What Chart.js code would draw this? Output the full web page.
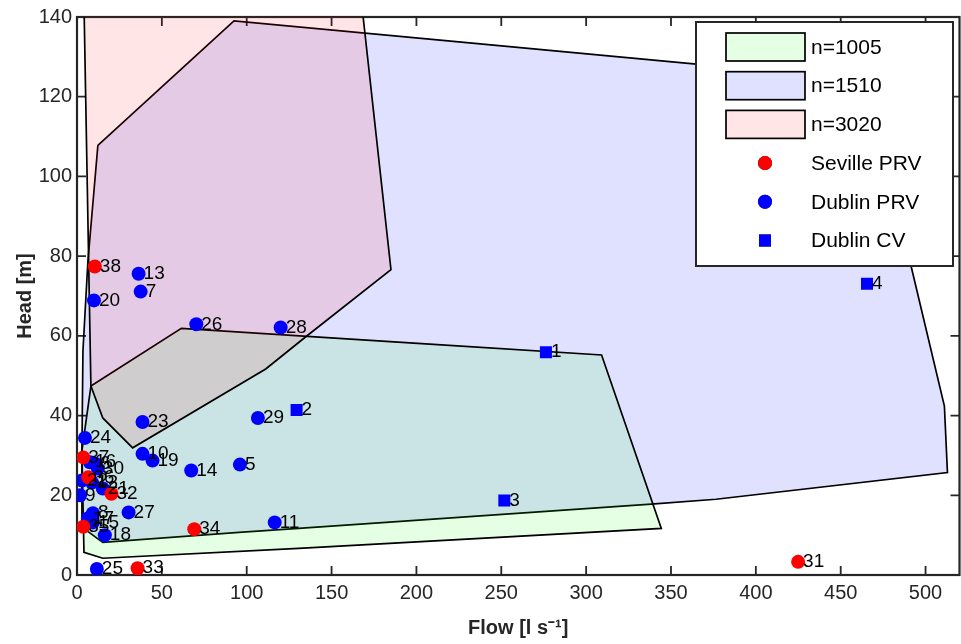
<!DOCTYPE html>
<html>
<head>
<meta charset="utf-8">
<script src="https://cdn.jsdelivr.net/npm/chart.js@4.4.0/dist/chart.umd.min.js"></script>
<style>
  html, body { margin: 0; padding: 0; background: #fff; overflow: hidden; }
  #wrap { width: 961px; height: 644px; overflow: hidden; }
</style>
</head>
<body>
<div id="wrap"><canvas id="myChart" width="968" height="644"></canvas></div>
<script>
// operating envelopes, flow [l/s] and head [m]
const env1005Flow = [8.2, 61.5, 200.8, 309.1, 344.3, 130.6, 15.2, 4.1, 2.9];
const env1005Head = [47.4, 61.9, 58.1, 55.2, 11.7, 6.7, 4.2, 5.7, 31.2];

const env1510Flow = [12.3, 92.5, 236.0, 361.8, 465.5, 491.8, 511.1, 512.9, 376.5, 338.4, 130.6, 95.4, 15.2, 2.9, 2.9, 3.5, 6.4];
const env1510Head = [107.8, 139.0, 133.3, 128.3, 124.0, 76.9, 42.4, 25.7, 19.0, 17.8, 11.7, 10.7, 8.2, 12.0, 31.2, 56.2, 78.6];

const env3020Flow = [4.0, 8.2, 15.2, 32.8, 111.2, 135.2, 185.0, 168.6, 167.2];
const env3020Head = [146, 47.4, 39.4, 31.9, 51.7, 59.9, 76.6, 140, 146];

// valve operating points
const sevilleIds  = [31, 32, 33, 34, 35, 36, 37, 38];
const sevilleFlow = [424.9, 20.3, 35.7, 69.1, 3.7, 6.6, 3.7, 10.5];
const sevilleHead = [3.3, 20.4, 1.7, 11.5, 12.1, 24.5, 29.5, 77.4];

const dublinPrvIds  = [5, 6, 7, 8, 9, 10, 11, 12, 13, 14, 15, 16, 17, 18, 19, 20, 21, 22, 23, 24, 25, 26, 27, 28, 29, 30];
const dublinPrvFlow = [96.0, 10.5, 37.5, 9.4, 1.8, 38.6, 116.5, 8.8, 36.3, 67.3, 9.4, 7.6, 6.4, 16.4, 44.5, 10.0, 15.2, 2.9, 38.6, 4.7, 11.7, 70.3, 30.4, 120.0, 106.6, 12.3];
const dublinPrvHead = [27.7, 28.0, 71.1, 15.5, 20.0, 30.4, 13.2, 23.2, 75.6, 26.2, 13.2, 28.3, 14.2, 10.0, 28.7, 68.9, 21.7, 23.7, 38.4, 34.4, 1.5, 62.9, 15.7, 62.1, 39.4, 26.7];

const dublinCvIds  = [1, 2, 3, 4];
const dublinCvFlow = [276.3, 129.4, 251.8, 465.5];
const dublinCvHead = [55.9, 41.4, 18.7, 73.1];

const FONT = '"Liberation Sans", Arial, sans-serif';
const AXIS_COLOR = '#262626';

const toPts = (xs, ys) => xs.map((x, i) => ({ x: x, y: ys[i] }));
const closed = (xs, ys) => { const p = toPts(xs, ys); p.push(p[0]); return p; };

const envelope = (label, xs, ys, fillColor, order) => ({
  label: label,
  kind: 'patch',
  data: closed(xs, ys),
  showLine: true,
  fill: 'shape',
  backgroundColor: fillColor,
  borderColor: '#000',
  borderWidth: 1.7,
  pointRadius: 0,
  tension: 0,
  order: order
});

const markers = (label, ids, xs, ys, color, style, radius) => ({
  label: label,
  kind: 'marker',
  ids: ids,
  data: toPts(xs, ys),
  showLine: false,
  pointStyle: style,
  pointRadius: radius,
  backgroundColor: color,
  borderColor: color,
  borderWidth: 0,
  order: 0
});

// box with inward ticks on all four sides
const axesBox = {
  id: 'axesBox',
  beforeDatasetsDraw(chart) {
    const { ctx, chartArea: a, scales } = chart;
    ctx.save();
    ctx.strokeStyle = AXIS_COLOR;
    ctx.lineWidth = 2.2;
    ctx.strokeRect(a.left, a.top, a.right - a.left, a.bottom - a.top);
    ctx.lineWidth = 1.8;
    ctx.beginPath();
    scales.x.ticks.forEach(t => {
      const px = scales.x.getPixelForValue(t.value);
      ctx.moveTo(px, a.bottom); ctx.lineTo(px, a.bottom - 9);
      ctx.moveTo(px, a.top); ctx.lineTo(px, a.top + 9);
    });
    scales.y.ticks.forEach(t => {
      const py = scales.y.getPixelForValue(t.value);
      ctx.moveTo(a.left, py); ctx.lineTo(a.left + 9, py);
      ctx.moveTo(a.right, py); ctx.lineTo(a.right - 9, py);
    });
    ctx.stroke();
    ctx.restore();
  }
};

// numbers next to each valve
const pointLabels = {
  id: 'pointLabels',
  afterDatasetsDraw(chart) {
    const ctx = chart.ctx;
    ctx.save();
    ctx.font = '19px ' + FONT;
    ctx.fillStyle = '#000';
    ctx.textBaseline = 'middle';
    chart.data.datasets.forEach((ds, i) => {
      if (!ds.ids) return;
      chart.getDatasetMeta(i).data.forEach((pt, j) => {
        ctx.fillText(String(ds.ids[j]), pt.x + 5, pt.y);
      });
    });
    ctx.restore();
  }
};

// legend box in the top right corner
const boxLegend = {
  id: 'boxLegend',
  afterDraw(chart) {
    const ctx = chart.ctx;
    const left = 696, top = 22, w = 257, h = 244;
    ctx.save();
    ctx.fillStyle = '#fff';
    ctx.fillRect(left, top, w, h);
    ctx.strokeStyle = AXIS_COLOR;
    ctx.lineWidth = 2;
    ctx.strokeRect(left, top, w, h);
    ctx.font = '21px ' + FONT;
    ctx.textBaseline = 'middle';
    let row = 0;
    chart.data.datasets.forEach(ds => {
      const cy = top + 25 + row * 38.7;
      if (ds.kind === 'patch') {
        ctx.fillStyle = ds.backgroundColor;
        ctx.fillRect(726, cy - 14, 79, 28);
        ctx.strokeStyle = '#000';
        ctx.lineWidth = 1.7;
        ctx.strokeRect(726, cy - 14, 79, 28);
      } else {
        Chart.helpers.drawPoint(ctx, {
          pointStyle: ds.pointStyle,
          radius: ds.pointRadius,
          borderWidth: 0
        }, 765, cy);
        ctx.fillStyle = ds.backgroundColor;
        ctx.fill();
      }
      ctx.fillStyle = '#000';
      ctx.fillText(ds.label, 811, cy + 1);
      row++;
    });
    ctx.restore();
  }
};

new Chart('myChart', {
  type: 'scatter',
  data: {
    datasets: [
      envelope('n=1005', env1005Flow, env1005Head, 'rgba(0,255,0,0.1)', 2),
      envelope('n=1510', env1510Flow, env1510Head, 'rgba(0,0,255,0.12)', 3),
      envelope('n=3020', env3020Flow, env3020Head, 'rgba(255,0,0,0.1)', 1),
      markers('Seville PRV', sevilleIds, sevilleFlow, sevilleHead, '#ff0000', 'circle', 7),
      markers('Dublin PRV', dublinPrvIds, dublinPrvFlow, dublinPrvHead, '#0000ff', 'circle', 7),
      markers('Dublin CV', dublinCvIds, dublinCvFlow, dublinCvHead, '#0000ff', 'rect', 8.5)
    ]
  },
  options: {
    responsive: false,
    animation: false,
    events: [],
    layout: { padding: { top: 14, right: 2, left: 0, bottom: 0 } },
    plugins: {
      legend: { display: false },
      tooltip: { enabled: false }
    },
    scales: {
      x: {
        type: 'linear',
        min: 0,
        max: 520,
        grid: { display: false, drawTicks: false },
        border: { display: false },
        ticks: {
          stepSize: 50,
          includeBounds: false,
          padding: 6,
          color: AXIS_COLOR,
          font: { family: FONT, size: 20 }
        },
        title: {
          display: true,
          text: 'Flow [l s\u207B\u00B9]',
          color: AXIS_COLOR,
          font: { family: FONT, size: 20, weight: 'bold' },
          padding: { top: 0, bottom: 4 }
        },
        afterFit(scale) { scale.height = 69; }
      },
      y: {
        type: 'linear',
        min: 0,
        max: 140,
        grid: { display: false, drawTicks: false },
        border: { display: false },
        ticks: {
          stepSize: 20,
          padding: 5,
          color: AXIS_COLOR,
          font: { family: FONT, size: 20 }
        },
        title: {
          display: true,
          text: 'Head [m]',
          color: AXIS_COLOR,
          font: { family: FONT, size: 20, weight: 'bold' },
          padding: { top: 13, bottom: 0 }
        },
        afterFit(scale) { scale.width = 77; }
      }
    }
  },
  plugins: [axesBox, pointLabels, boxLegend]
});
</script>
</body>
</html>
